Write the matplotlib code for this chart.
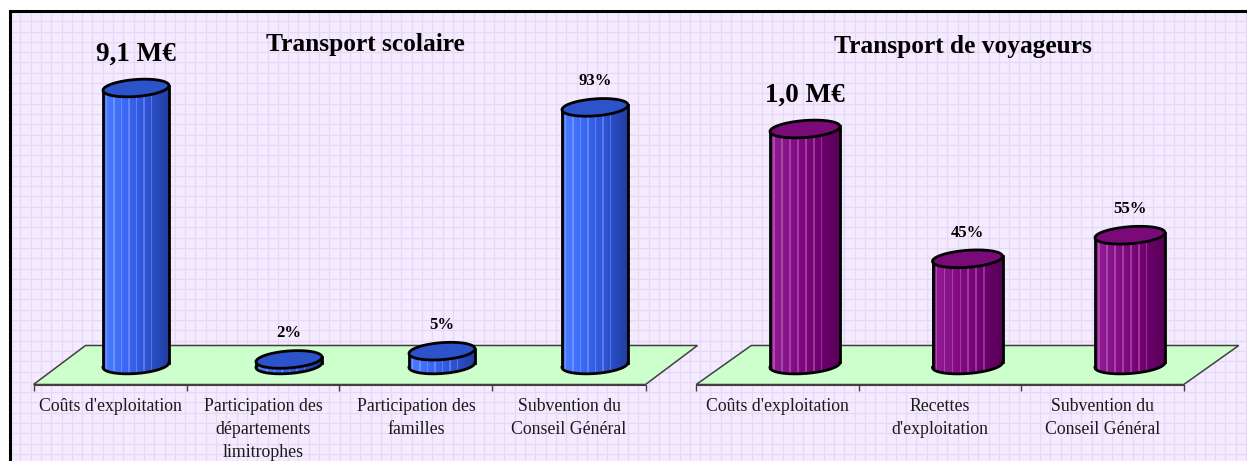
import numpy as np
import matplotlib.pyplot as plt
from matplotlib.colors import LinearSegmentedColormap, to_rgb
from matplotlib.patches import Polygon

# data
cats_scolaire = ["Coûts d'exploitation", "Participation des\ndépartements\nlimitrophes",
                 "Participation des\nfamilles", "Subvention du\nConseil Général"]
vals_scolaire = [100, 2, 5, 93]
labels_scolaire = ["9,1 M€", "2%", "5%", "93%"]

cats_voyageurs = ["Coûts d'exploitation", "Recettes\nd'exploitation", "Subvention du\nConseil Général"]
vals_voyageurs = [100, 45, 55]
labels_voyageurs = ["1,0 M€", "45%", "55%"]

W, H = 1247, 461
TOP = 11
SERIF = "Liberation Serif"

fig = plt.figure(figsize=(W / 100, H / 100), dpi=100)
fig.patch.set_facecolor("white")

# lavender grid paper background with frame
bg = fig.add_axes([10 / W, 0, (W - 10) / W, (H - TOP) / H])
bg.set_facecolor("#F4EBFF")
bg.set_xticks(np.arange(0, W - 10, 10.3))
bg.set_yticks(np.arange(H - TOP, 0, -10.3))
bg.set_xlim(0, W - 10)
bg.set_ylim(0, H - TOP)
bg.grid(True, color="#E8D8F8", lw=0.9)
bg.tick_params(length=0, labelbottom=False, labelleft=False)
for s in ["right", "bottom"]:
    bg.spines[s].set_visible(False)
for s in ["top", "left"]:
    bg.spines[s].set_linewidth(2.2)
    bg.spines[s].set_color("black")


def chart(px0, px1, ox, sx, sy, depth, cats, vals, labels, title, tx, ty,
          colors, top_color, rx):
    # ox = pixel x of first bar centre, base of bars at pixel row 365
    oy = 365
    ax = fig.add_axes([px0 / W, 0, (px1 - px0) / W, (H - TOP) / H])
    ax.patch.set_alpha(0)
    n = len(vals)

    ddx, ddy = depth[0] / sx / 2, depth[1] / sy / 2
    front, back = -ddy, ddy
    floor = Polygon([(-0.5 - ddx, front), (n - 0.5 - ddx, front),
                     (n - 0.5 + ddx, back), (-0.5 + ddx, back)],
                    closed=True, facecolor="#CCFFCC", edgecolor="#404040",
                    lw=1.1, zorder=1)
    ax.add_patch(floor)

    cmap = LinearSegmentedColormap.from_list("c", colors)
    tilt = 0.072
    ry = 8.5
    ns = 44
    edges = np.linspace(-rx, rx, ns + 1)
    mids = (edges[:-1] + edges[1:]) / 2
    tpos = (mids + rx) / (2 * rx)
    scol = []
    for k, t in enumerate(tpos):
        c = np.array(to_rgb(cmap(t)))
        if k % 5 == 2 and t < 0.8:
            c = c + (1 - c) * 0.22
        scol.append(c)
    th = np.linspace(0, 2 * np.pi, 120)

    for i, (v, lab) in enumerate(zip(vals, labels)):
        bot = tilt * mids - ry * np.sqrt(1 - (mids / rx) ** 2)
        topp = v * sy + tilt * mids
        ax.bar(i + mids / sx, (topp - bot) / sy, width=(2 * rx / ns) / sx * 1.02,
               bottom=bot / sy, color=scol, lw=0, zorder=3)
        # outline: sides and lower arc
        arc = np.linspace(np.pi, 2 * np.pi, 60)
        ex = rx * np.cos(arc)
        ey = ry * np.sin(arc) + tilt * ex
        ax.plot(i + ex / sx, ey / sy, color="black", lw=2, zorder=4)
        ax.plot([i - rx / sx, i - rx / sx], [-tilt * rx / sy, v - tilt * rx / sy],
                color="black", lw=2, zorder=4)
        ax.plot([i + rx / sx, i + rx / sx], [tilt * rx / sy, v + tilt * rx / sy],
                color="black", lw=2, zorder=4)
        ex = rx * np.cos(th)
        ey = ry * np.sin(th) + tilt * ex
        ax.add_patch(Polygon(np.column_stack([i + ex / sx, v + ey / sy]),
                             closed=True, facecolor=top_color, edgecolor="black",
                             lw=2, zorder=5))
        big = "M€" in lab
        ax.annotate(lab, (i, v), xytext=(0, 15 if big else 13),
                    textcoords="offset points",
                    ha="center", va="bottom", fontfamily=SERIF,
                    fontweight="bold", fontsize=19.5 if big else 12, zorder=6)

    for s in ["top", "left", "right"]:
        ax.spines[s].set_visible(False)
    ax.spines["bottom"].set_position(("data", front))
    ax.spines["bottom"].set_bounds(-0.5 - ddx, n - 0.5 - ddx)
    ax.spines["bottom"].set_color("#404040")
    ax.set_yticks([])
    ax.set_xticks(np.arange(n + 1) - 0.5 - ddx)
    ax.set_xticklabels([])
    ax.tick_params(axis="x", which="major", length=4.5, width=1, color="#404040")
    ax.set_xticks(np.arange(n) - ddx, minor=True)
    ax.set_xticklabels(cats, minor=True, fontfamily=SERIF, fontsize=12.8,
                       color="#1a1a1a", linespacing=1.45, va="top")
    ax.tick_params(axis="x", which="minor", length=0, pad=10)

    # limits last, so the ticks do not widen them
    ax.set_xlim((px0 - ox) / sx, (px1 - ox) / sx)
    ax.set_ylim((oy - H) / sy, (oy - TOP) / sy)

    fig.text(tx / W, 1 - ty / H, title, ha="center", va="center",
             fontfamily=SERIF, fontweight="bold", fontsize=18.3)
    return ax


chart(10, 708, 136, 153, 2.77, (52, 39), cats_scolaire, vals_scolaire,
      labels_scolaire, "Transport scolaire", 365, 44,
      ["#4C7DFF", "#3A68F5", "#2C53D6", "#213D9E"], "#2C53C9", 33)
chart(685, W, 805, 162.5, 2.36, (55, 39), cats_voyageurs, vals_voyageurs,
      labels_voyageurs, "Transport de voyageurs", 963, 47,
      ["#931C93", "#850C85", "#740074", "#560056"], "#7A0A78", 35)

fig.savefig("out.png", dpi=100)
